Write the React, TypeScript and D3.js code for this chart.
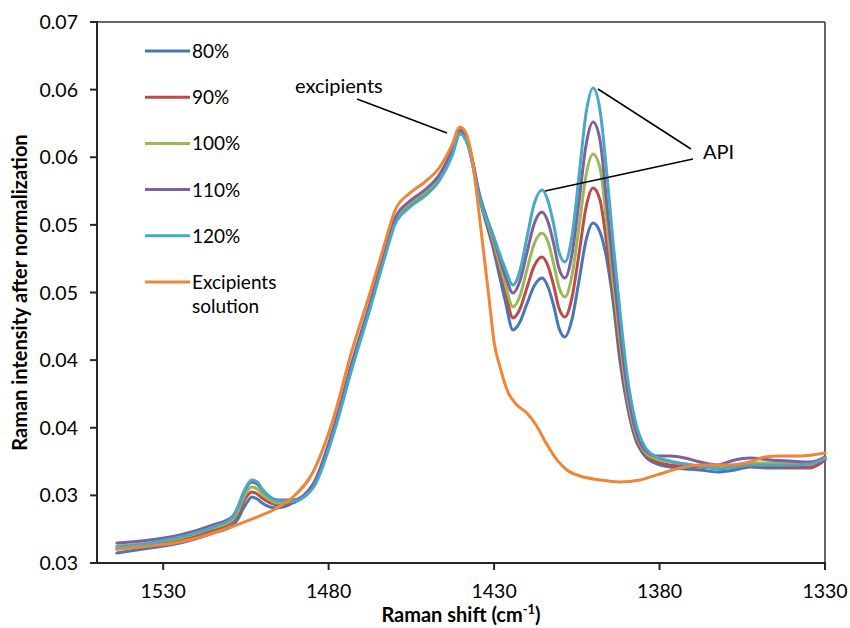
import React from "react";
import * as d3 from "d3";

// ---------- data ----------
const seriesNames = ["80%", "90%", "100%", "110%", "120%"];
const excipientsName = ["Excipients", "solution"];

// Raman shift (cm-1) sampling of the API spectra
const apiShift = [
  1544.0, 1534.0, 1524.9, 1514.9, 1509.2, 1507.4, 1505.9, 1504.4, 1503.2, 1501.6, 1500.1,
  1497.7, 1495.6, 1490.8, 1484.7, 1478.7, 1472.9, 1467.5, 1463.0, 1459.9, 1455.4, 1450.9,
  1446.4, 1442.7, 1440.3,
  1437.9, 1434.3, 1430.3, 1426.7, 1424.3, 1422.2, 1420.1, 1417.9, 1415.5, 1413.7, 1411.9,
  1410.4, 1408.6, 1406.5, 1404.3, 1402.2, 1400.1,
  1398.0, 1395.9, 1394.1, 1392.0, 1389.8, 1387.4, 1384.4, 1380.8, 1376.8, 1372.3, 1367.8,
  1362.6, 1357.2, 1352.7, 1346.6, 1340.6, 1334.5, 1330.0,
];

const api80 = [
  0.03074, 0.03111, 0.03148, 0.03222, 0.03274, 0.03325, 0.03399, 0.03458, 0.03488, 0.03473, 0.03444,
  0.03414, 0.03407, 0.03444, 0.03562, 0.03954, 0.04457, 0.04893, 0.05277, 0.05521, 0.05647, 0.05728,
  0.05847, 0.06024, 0.06179,
  0.06091, 0.05684, 0.05329, 0.04945, 0.04723, 0.04782, 0.04915, 0.05048, 0.05107, 0.05041, 0.04893,
  0.04738, 0.04671, 0.04797, 0.05093, 0.05388, 0.05514,
  0.05447, 0.0524, 0.04945, 0.04501, 0.04168, 0.03924, 0.03791, 0.03732, 0.0371, 0.03695, 0.03688,
  0.03673, 0.03688, 0.0371, 0.03702, 0.03702, 0.03702, 0.03762,
];
const api90 = [
  0.03104, 0.03133, 0.0317, 0.03244, 0.03303, 0.03362, 0.03444, 0.03503, 0.03525, 0.0351, 0.03481,
  0.03444, 0.03429, 0.03451, 0.03569, 0.03961, 0.04464, 0.049, 0.05285, 0.05529, 0.05654, 0.05736,
  0.05854, 0.06032, 0.06187,
  0.06105, 0.05699, 0.05366, 0.05019, 0.04812, 0.04878, 0.05033, 0.05196, 0.05263, 0.05196, 0.05041,
  0.04885, 0.04819, 0.04959, 0.05292, 0.05632, 0.05773,
  0.05684, 0.05351, 0.05019, 0.04575, 0.04205, 0.03946, 0.03806, 0.03747, 0.03725, 0.03717, 0.0371,
  0.03702, 0.0371, 0.03717, 0.03717, 0.0371, 0.0371, 0.03762,
];
const api100 = [
  0.03126, 0.03148, 0.03185, 0.03259, 0.03318, 0.03384, 0.03473, 0.0354, 0.03562, 0.03547, 0.0351,
  0.03466, 0.03444, 0.03458, 0.03577, 0.03969, 0.04471, 0.04908, 0.05292, 0.05536, 0.05662, 0.05743,
  0.05861, 0.06039, 0.06187,
  0.06105, 0.05706, 0.05388, 0.0507, 0.04893, 0.04974, 0.05166, 0.05359, 0.0544, 0.05373, 0.05203,
  0.05041, 0.04967, 0.05122, 0.05492, 0.05869, 0.06024,
  0.05921, 0.05499, 0.05093, 0.04649, 0.04242, 0.03969, 0.03821, 0.03769, 0.03747, 0.03732, 0.03717,
  0.0371, 0.03725, 0.03739, 0.03739, 0.03739, 0.03739, 0.03776,
];
const api110 = [
  0.03148, 0.0317, 0.03207, 0.03281, 0.0334, 0.03414, 0.0351, 0.03577, 0.03599, 0.03584, 0.0354,
  0.03488, 0.03466, 0.03466, 0.03584, 0.03983, 0.04486, 0.04922, 0.05307, 0.05551, 0.05677, 0.05758,
  0.05876, 0.06054, 0.06202,
  0.06113, 0.05714, 0.05418, 0.0513, 0.04996, 0.05085, 0.05292, 0.05507, 0.05595, 0.05521, 0.05351,
  0.05181, 0.05107, 0.05277, 0.05684, 0.06091, 0.06261,
  0.06128, 0.05647, 0.05203, 0.04723, 0.04294, 0.03998, 0.03836, 0.03791, 0.03791, 0.03776, 0.03747,
  0.03725, 0.03762, 0.03776, 0.03762, 0.03754, 0.03747, 0.03784,
];
const api120 = [
  0.03118, 0.03148, 0.03192, 0.03266, 0.03333, 0.03414, 0.0351, 0.03584, 0.03614, 0.03599, 0.03547,
  0.03488, 0.03458, 0.03458, 0.03555, 0.03939, 0.04442, 0.04878, 0.05263, 0.05507, 0.05632, 0.05714,
  0.05832, 0.06009, 0.06172,
  0.06091, 0.05684, 0.05425, 0.05181, 0.05056, 0.05159, 0.05403, 0.05654, 0.05758, 0.05677, 0.05492,
  0.053, 0.05226, 0.0541, 0.05869, 0.06327, 0.06512,
  0.0635, 0.05869, 0.05388, 0.04871, 0.0439, 0.04057, 0.03858, 0.03784, 0.03754, 0.03732, 0.03717,
  0.03695, 0.0371, 0.03725, 0.03725, 0.03725, 0.03732, 0.03776,
];
const apiSeries = [api80, api90, api100, api110, api120];

// Excipients solution spectrum
const excShift = [
  1544.0, 1534.0, 1524.9, 1514.9, 1503.2, 1495.6, 1490.8, 1484.7, 1478.7, 1472.9, 1467.5,
  1463.0, 1459.9, 1455.4, 1450.9, 1446.4, 1442.7, 1440.3, 1438.5, 1436.7, 1435.2, 1433.7,
  1432.1, 1431.2, 1430.0, 1428.2, 1425.8, 1423.1, 1420.1, 1417.3, 1414.3, 1411.0, 1408.0,
  1404.0, 1398.0, 1392.0, 1385.9, 1379.9, 1373.8, 1367.8, 1358.7, 1352.7, 1348.1, 1343.6,
  1337.6, 1330.0,
];
const excValues = [
  0.03104, 0.03126, 0.03155, 0.03222, 0.03325, 0.03407, 0.03488, 0.03673, 0.04057, 0.04575, 0.04996,
  0.05366, 0.0561, 0.05736, 0.05817, 0.05928, 0.06091, 0.06224, 0.06179, 0.05995, 0.05721, 0.0541,
  0.05078, 0.04885, 0.04634, 0.04449, 0.04264, 0.04168, 0.04109, 0.0402, 0.03887, 0.03762, 0.03688,
  0.03643, 0.03614, 0.03599, 0.03614, 0.03658, 0.03702, 0.03725, 0.03725, 0.03747, 0.03784, 0.03791,
  0.03791, 0.03813,
];

const xTicks = [1530, 1480, 1430, 1380, 1330];
const yTickValues = [0.03, 0.035, 0.04, 0.045, 0.05, 0.055, 0.06, 0.065, 0.07];
const yTickLabels = ["0.03", "0.03", "0.04", "0.04", "0.05", "0.05", "0.06", "0.06", "0.07"];

const colors = ["#4677B8", "#BE4B48", "#98B954", "#7D60A0", "#46AAC5"];
const excColor = "#EE8636";

// ---------- layout ----------
const W = 850;
const H = 628;
const L = 97, R = 825, T = 22, B = 563;
const FONT = "Lato, 'Open Sans', sans-serif";
const TICK_FS = 19.5;
const TEXT_FS = 20;

export default function App() {
  const x = d3.scaleLinear().domain([1550, 1330]).range([L, R]);
  const y = d3.scaleLinear().domain([0.03, 0.07]).range([B, T]);

  const line = d3
    .line<[number, number]>()
    .x((d) => x(d[0]))
    .y((d) => y(d[1]))
    .curve(d3.curveMonotoneX);

  const apiPaths = apiSeries.map((vals) =>
    line(apiShift.map((s, i) => [s, vals[i]] as [number, number]))
  );
  const excPath = line(excShift.map((s, i) => [s, excValues[i]] as [number, number]));

  const legendY0 = 51;
  const legendStep = 46.2;

  return (
    <svg
      width={W}
      height={H}
      style={{ position: "absolute", left: 0, top: 0, background: "#fff" }}
      fontFamily={FONT}
    >
      <rect x={0} y={0} width={W} height={H} fill="#fff" />

      {/* plot border */}
      <line x1={L} x2={R} y1={T} y2={T} stroke="#333" strokeWidth={1.5} />
      <line x1={R} x2={R} y1={T} y2={B} stroke="#333" strokeWidth={1.5} />

      {/* series */}
      <g fill="none" strokeWidth={3} strokeLinejoin="round" strokeLinecap="round">
        {apiPaths.map((p, i) => (
          <path key={i} d={p || ""} stroke={colors[i]} />
        ))}
        <path d={excPath || ""} stroke={excColor} />
      </g>

      {/* axes */}
      <line x1={L} x2={L} y1={T - 1} y2={B + 1} stroke="#262626" strokeWidth={2} />
      <line x1={L - 7} x2={R + 1} y1={B} y2={B} stroke="#262626" strokeWidth={2} />
      {yTickValues.map((v, i) => (
        <g key={"y" + i}>
          <line x1={L - 7} x2={L} y1={y(v)} y2={y(v)} stroke="#262626" strokeWidth={2} />
          <text x={78} y={y(v) + 7} textAnchor="end" fontSize={TICK_FS} fill="#000">
            {yTickLabels[i]}
          </text>
        </g>
      ))}
      {xTicks.map((t) => (
        <g key={"x" + t}>
          <line x1={x(t)} x2={x(t)} y1={B} y2={B + 7} stroke="#262626" strokeWidth={2} />
          <text x={x(t)} y={598} textAnchor="middle" fontSize={TICK_FS} fill="#000">
            {t}
          </text>
        </g>
      ))}

      {/* axis titles */}
      <text x={461} y={622} textAnchor="middle" fontSize={TEXT_FS} fontWeight="bold" fill="#000">
        Raman shift (cm
        <tspan fontSize={13} dy={-8}>-1</tspan>
        <tspan dy={8}>)</tspan>
      </text>
      <text
        transform={`translate(27, ${(T + B) / 2}) rotate(-90)`}
        textAnchor="middle"
        fontSize={TEXT_FS}
        fontWeight="bold"
        fill="#000"
      >
        Raman intensity after normalization
      </text>

      {/* legend */}
      {seriesNames.map((n, i) => {
        const ly = legendY0 + i * legendStep;
        return (
          <g key={n}>
            <line x1={145} x2={190} y1={ly} y2={ly} stroke={colors[i]} strokeWidth={3} />
            <text x={192} y={ly + 7} fontSize={19} fill="#000">
              {n}
            </text>
          </g>
        );
      })}
      {(() => {
        const ly = legendY0 + 5 * legendStep;
        return (
          <g>
            <line x1={145} x2={190} y1={ly} y2={ly} stroke={excColor} strokeWidth={3} />
            <text x={192} y={ly + 7} fontSize={19} fill="#000">
              {excipientsName[0]}
            </text>
            <text x={192} y={ly + 31} fontSize={19} fill="#000">
              {excipientsName[1]}
            </text>
          </g>
        );
      })()}

      {/* annotations */}
      <text x={295} y={93} fontSize={TEXT_FS} fill="#000">excipients</text>
      <line x1={357} y1={99} x2={447} y2={133} stroke="#000" strokeWidth={1.5} />
      <text x={703} y={159} fontSize={TEXT_FS} fill="#000">API</text>
      <line x1={598} y1={89} x2={691} y2={149} stroke="#000" strokeWidth={1.5} />
      <line x1={693} y1={159} x2={545} y2={191} stroke="#000" strokeWidth={1.5} />
    </svg>
  );
}
